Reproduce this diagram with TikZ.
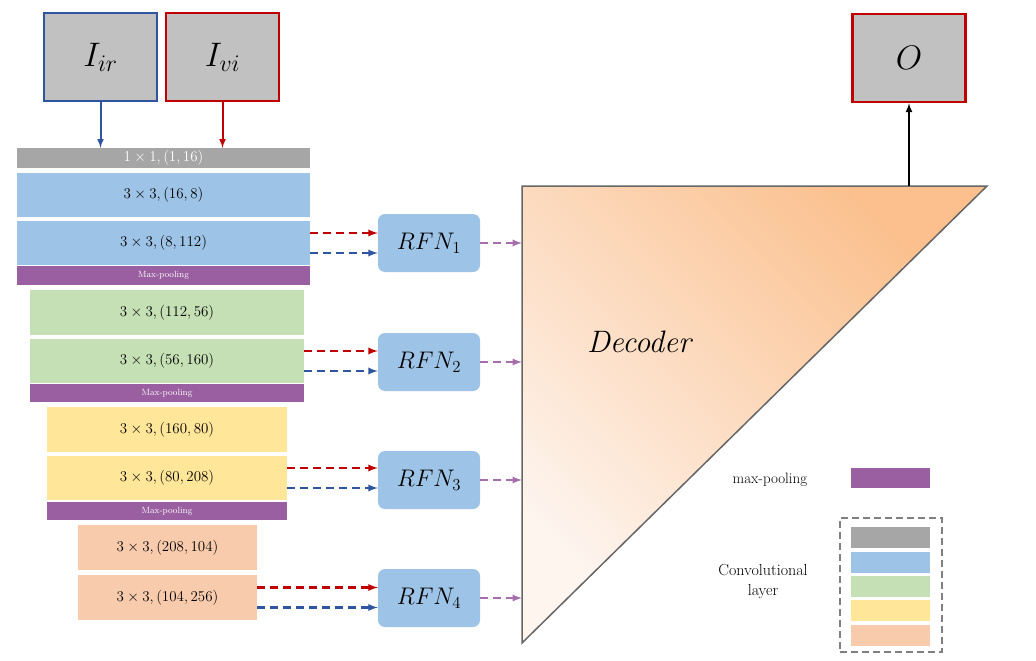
\documentclass[tikz,border=0pt]{standalone}
\usepackage{amsmath}
\usepackage{fix-cm}
\begin{document}
\begin{tikzpicture}[x=1pt,y=-1pt,
  lay/.style={draw=none,inner sep=0,font=\fontsize{15}{17}\selectfont},
  mp/.style={fill=mpc,draw=none,inner sep=0,text=white,font=\fontsize{9}{10}\selectfont},
  rfn/.style={fill=cblue,rounded corners=7pt,minimum width=102pt,minimum height=58pt,inner sep=0,font=\fontsize{24}{26}\selectfont},
  inp/.style={fill=cgray!70,line width=2.5pt,minimum width=113pt,minimum height=88pt,inner sep=0,font=\fontsize{34}{36}\selectfont},
  ra/.style={draw=cred,line width=2.2pt,dashed,dash pattern=on 8pt off 5pt,-latex},
  ba/.style={draw=cdblue,line width=2.2pt,dashed,dash pattern=on 8pt off 5pt,-latex},
  pa/.style={draw=mpc!90,line width=2.2pt,dashed,dash pattern=on 8pt off 5pt,-latex}]
\definecolor{cgray}{HTML}{A6A6A6}
\definecolor{cblue}{HTML}{9DC3E6}
\definecolor{cgreen}{HTML}{C5E0B4}
\definecolor{cyel}{HTML}{FFE699}
\definecolor{cor}{HTML}{F8CBAD}
\definecolor{mpc}{HTML}{9A5FA0}
\definecolor{cred}{HTML}{C00000}
\definecolor{cdblue}{HTML}{2F55A0}
\useasboundingbox (0,0) rectangle (1036,661);
% inputs
\node[inp,draw=cdblue] (ir) at (100.5,57) {$I_{ir}$};
\node[inp,draw=cred] (vi) at (222.5,57) {$I_{vi}$};
\node[inp,draw=cred] (o) at (909,58) {$O$};
% layers
\node[lay,fill=cgray,text=white,minimum width=293pt,minimum height=20pt] (g) at (163.5,158) {$1\times1,(1,16)$};
\node[lay,fill=cblue,minimum width=293pt,minimum height=44pt] (b1) at (163.5,195) {$3\times3,(16,8)$};
\node[lay,fill=cblue,minimum width=293pt,minimum height=44pt] (b2) at (163.5,243) {$3\times3,(8,112)$};
\node[mp,minimum width=293pt,minimum height=19pt] (p1) at (163.5,275.5) {Max-pooling};
\node[lay,fill=cgreen,minimum width=274pt,minimum height=45pt] (g1) at (167,312.5) {$3\times3,(112,56)$};
\node[lay,fill=cgreen,minimum width=274pt,minimum height=44pt] (g2) at (167,361) {$3\times3,(56,160)$};
\node[mp,minimum width=274pt,minimum height=18pt] (p2) at (167,393) {Max-pooling};
\node[lay,fill=cyel,minimum width=240pt,minimum height=45pt] (y1) at (167,429.5) {$3\times3,(160,80)$};
\node[lay,fill=cyel,minimum width=240pt,minimum height=44pt] (y2) at (167,478) {$3\times3,(80,208)$};
\node[mp,minimum width=240pt,minimum height=18pt] (p3) at (167,511) {Max-pooling};
\node[lay,fill=cor,minimum width=179pt,minimum height=45pt] (o1) at (167.5,547.5) {$3\times3,(208,104)$};
\node[lay,fill=cor,minimum width=179pt,minimum height=45pt] (o2) at (167.5,597.5) {$3\times3,(104,256)$};
% input arrows
\draw[cdblue,line width=2pt,-latex] (ir.south) -- (ir.south|-g.north);
\draw[cred,line width=2pt,-latex] (vi.south) -- (vi.south|-g.north);
% RFN
\node[rfn] (r1) at (429,243) {$RFN_1$};
\node[rfn] (r2) at (429,362) {$RFN_2$};
\node[rfn] (r3) at (429,480) {$RFN_3$};
\node[rfn] (r4) at (429,598) {$RFN_4$};
\foreach \l/\r in {b2/r1,g2/r2,y2/r3,o2/r4}{
  \draw[ra] ([yshift=10pt]\l.east) -- ([yshift=10pt]\l.east-|\r.west);
  \draw[ba] ([yshift=-10pt]\l.east) -- ([yshift=-10pt]\l.east-|\r.west);
}
% decoder
\coordinate (t1) at (522,186); \coordinate (t2) at (987,186); \coordinate (t3) at (522,643);
\shade[top color=cor!70!orange!85,bottom color=cor!20,shading angle=-45] (t1) -- (t2) -- (t3) -- cycle;
\draw[gray!80!black,line width=1.5pt] (t1) -- (t2) -- (t3) -- cycle;
\node[font=\fontsize{31}{33}\selectfont\itshape] (dec) at (639,342) {Decoder};
\foreach \r in {r1,r2,r3,r4}{\draw[pa] (\r.east) -- (\r.east-|t1);}
\coordinate (top) at (909,186);
\draw[black,line width=2pt,-latex] (top) -- (o.south);
% legend
\node[font=\fontsize{15}{17}\selectfont] (lmp) at (770,480) {max-pooling};
\node[fill=mpc,minimum width=79pt,minimum height=20pt,inner sep=0] (lp) at (890.5,478) {};
\node[draw=gray,line width=2pt,dashed,dash pattern=on 7pt off 4pt,minimum width=102pt,minimum height=134pt] (lb) at (891,585) {};
\foreach \c/\y in {cgray/537.5,cblue/562,cgreen/586,cyel/610.5,cor/635.5}
  \fill[\c] (851,\y-10.5) rectangle (930,\y+10.5);
\node[font=\fontsize{16}{20}\selectfont,align=center] (lc) at (763,582) {Convolutional\\layer};
\end{tikzpicture}
\end{document}
